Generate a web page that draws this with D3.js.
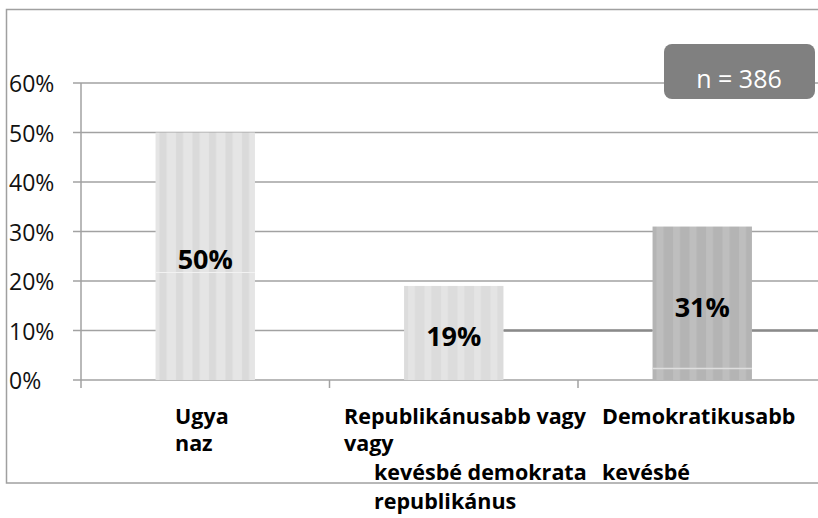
<!DOCTYPE html>
<html>
<head>
<meta charset="utf-8">
<script src="https://cdn.jsdelivr.net/npm/d3@7"></script>
<style>
  body { margin: 0; background: #fff; }
  svg text { font-family: "Open Sans", sans-serif; }
</style>
</head>
<body>
<svg id="chart" width="818" height="518"></svg>
<script>
// data
var categories = ["Ugyanaz", "Republikánusabb vagy kevésbé demokrata", "Demokratikusabb vagy kevésbé republikánus"];
var values = [0.50, 0.19, 0.31];
var valueLabels = ["50%", "19%", "31%"];
var yTicks = [0, 0.1, 0.2, 0.3, 0.4, 0.5, 0.6];
var nLabel = "n = 386";
// category label pieces as they wrap in the picture: [text, column, row]
var labelPieces = [
    ["Ugya", 0, 0], ["naz", 0, 1],
    ["Republikánusabb vagy", 1, 0], ["vagy", 1, 1],
    ["kevésbé demokrata", 2, 2], ["republikánus", 2, 3],
    ["Demokratikusabb", 3, 0], ["kevésbé", 3, 2]
];

var barColors = [
    {base: "#e5e5e5", stripe: "#dadada"},
    {base: "#dcdcdc", stripe: "#e4e4e4"},
    {base: "#b4b4b4", stripe: "#bebebe"}
];

var svg = d3.select("#chart");

// outer frame
svg.append("rect")
    .attr("x", 6.5).attr("y", 9.5)
    .attr("width", 830).attr("height", 473.5)
    .attr("fill", "none").attr("stroke", "#a0a0a0").attr("stroke-width", 1.5);

var y = d3.scaleLinear().domain([0, 0.6]).range([380, 83]);
var x = d3.scaleBand().domain(categories).range([81, 826.5])
    .paddingInner(0.6).paddingOuter(0.3);

// stripe patterns
var defs = svg.append("defs");
barColors.forEach(function(c, i) {
    var p = defs.append("pattern")
        .attr("id", "stripe" + i)
        .attr("patternUnits", "userSpaceOnUse")
        .attr("x", x(categories[i])).attr("y", 0)
        .attr("width", 16.5).attr("height", 10);
    p.append("rect").attr("width", 16.5).attr("height", 10).attr("fill", c.base);
    p.append("rect").attr("x", 4).attr("width", 7).attr("height", 10).attr("fill", c.stripe);
});

// gridlines
svg.append("g").selectAll("line")
    .data(yTicks)
    .enter().append("line")
    .attr("x1", 73).attr("x2", 818)
    .attr("y1", function(d) { return y(d); })
    .attr("y2", function(d) { return y(d); })
    .attr("stroke", "#a2a2a2").attr("stroke-width", 1.5);

// darker pieces of the 10% line right of the middle bar
var b2 = x(categories[1]) + x.bandwidth(), b3 = x(categories[2]);
svg.append("g").selectAll("line")
    .data([[b2, b3], [b3 + x.bandwidth(), 818]])
    .enter().append("line")
    .attr("x1", function(d) { return d[0]; }).attr("x2", function(d) { return d[1]; })
    .attr("y1", y(0.1)).attr("y2", y(0.1))
    .attr("stroke", "#8a8a8a").attr("stroke-width", 2.5);

// y tick labels
svg.append("g").selectAll("text")
    .data(yTicks)
    .enter().append("text")
    .attr("x", 9).attr("y", function(d) { return y(d) + 9; })
    .attr("font-size", "23px").attr("fill", "#111")
    .text(function(d) { return Math.round(d * 100) + "%"; });

// y axis line
svg.append("line")
    .attr("x1", 81).attr("x2", 81).attr("y1", 83).attr("y2", 388)
    .attr("stroke", "#a2a2a2").attr("stroke-width", 1.5);

// x category ticks at band boundaries
var boundaries = categories.map(function(c) { return x(c) - x.step() * 0.3; });
svg.append("g").selectAll("line")
    .data(boundaries.slice(1))
    .enter().append("line")
    .attr("x1", function(d) { return d; }).attr("x2", function(d) { return d; })
    .attr("y1", 380).attr("y2", 388)
    .attr("stroke", "#a2a2a2").attr("stroke-width", 1.5);

// bars
svg.append("g").selectAll("rect")
    .data(values)
    .enter().append("rect")
    .attr("x", function(d, i) { return x(categories[i]); })
    .attr("y", function(d) { return y(d); })
    .attr("width", x.bandwidth())
    .attr("height", function(d) { return y(0) - y(d); })
    .attr("fill", function(d, i) { return "url(#stripe" + i + ")"; });

// faint light lines inside bars 1 and 3
svg.append("line")
    .attr("x1", x(categories[0])).attr("x2", x(categories[0]) + x.bandwidth())
    .attr("y1", 272.5).attr("y2", 272.5)
    .attr("stroke", "#f2f2f2").attr("stroke-width", 1);
svg.append("line")
    .attr("x1", x(categories[2])).attr("x2", x(categories[2]) + x.bandwidth())
    .attr("y1", 368.5).attr("y2", 368.5)
    .attr("stroke", "#dedede").attr("stroke-width", 1.5);

// value labels
var labelBase = [269, 346, 317];
svg.append("g").selectAll("text")
    .data(values)
    .enter().append("text")
    .attr("x", function(d, i) { return x(categories[i]) + x.bandwidth() / 2; })
    .attr("y", function(d, i) { return labelBase[i]; })
    .attr("text-anchor", "middle")
    .attr("font-size", "27px").attr("font-weight", "bold").attr("fill", "#000")
    .text(function(d, i) { return valueLabels[i]; });

// category labels
var colX = [175, 344, 374, 602];
var rowY = [424, 451, 480, 509];
svg.append("g").selectAll("text")
    .data(labelPieces)
    .enter().append("text")
    .attr("x", function(d) { return colX[d[1]]; })
    .attr("y", function(d) { return rowY[d[2]]; })
    .attr("font-family", "Lato, sans-serif")
    .attr("font-size", "21.5px").attr("font-weight", "bold").attr("fill", "#000")
    .text(function(d) { return d[0]; });

// n box
svg.append("rect")
    .attr("x", 664).attr("y", 44).attr("width", 151).attr("height", 55)
    .attr("rx", 8).attr("ry", 8)
    .attr("fill", "#808080");
svg.append("text")
    .attr("x", 739).attr("y", 88)
    .attr("text-anchor", "middle")
    .attr("font-size", "25px").attr("fill", "#fff")
    .text(nLabel);
</script>
</body>
</html>
